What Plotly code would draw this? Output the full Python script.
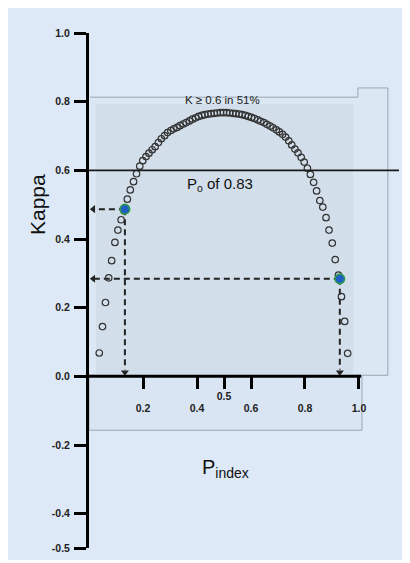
import plotly.graph_objects as go

# ---- data ----
pindex = [0.038, 0.050, 0.061, 0.073, 0.084, 0.096, 0.107, 0.119, 0.130, 0.142,
          0.153, 0.165, 0.176, 0.188, 0.199, 0.211, 0.222, 0.234, 0.245, 0.257,
          0.268, 0.280, 0.291, 0.303, 0.314, 0.326, 0.337, 0.349, 0.360, 0.372,
          0.383, 0.395, 0.406, 0.418, 0.429, 0.441, 0.452, 0.464, 0.475, 0.487,
          0.498, 0.510, 0.521, 0.533, 0.544, 0.556, 0.567, 0.579, 0.590, 0.602,
          0.613, 0.625, 0.636, 0.648, 0.659, 0.671, 0.682, 0.694, 0.705, 0.717,
          0.728, 0.740, 0.751, 0.763, 0.774, 0.786, 0.797, 0.809, 0.820, 0.832,
          0.843, 0.855, 0.866, 0.878, 0.889, 0.901, 0.912, 0.924, 0.935, 0.947,
          0.958]
kappa = [0.068, 0.145, 0.215, 0.287, 0.337, 0.390, 0.426, 0.456, 0.482, 0.516,
         0.543, 0.567, 0.590, 0.612, 0.628, 0.640, 0.650, 0.660, 0.669, 0.681,
         0.692, 0.701, 0.710, 0.716, 0.721, 0.725, 0.730, 0.735, 0.739, 0.744,
         0.749, 0.753, 0.757, 0.760, 0.762, 0.764, 0.765, 0.766, 0.767, 0.768,
         0.768, 0.768, 0.767, 0.766, 0.765, 0.764, 0.762, 0.760, 0.757, 0.754,
         0.751, 0.747, 0.743, 0.739, 0.734, 0.729, 0.724, 0.718, 0.712, 0.705,
         0.697, 0.686, 0.674, 0.662, 0.651, 0.638, 0.624, 0.606, 0.588, 0.565,
         0.540, 0.512, 0.493, 0.462, 0.426, 0.388, 0.340, 0.295, 0.232, 0.160,
         0.067]

highlight_x = [0.133, 0.929]
highlight_k = [0.487, 0.284]

po_level = 0.6
ytick_vals = [1.0, 0.8, 0.6, 0.4, 0.2, 0.0, -0.2, -0.4, -0.5]
ytick_text = ["1.0", "0.8", "0.6", "0.4", "0.2", "0.0", "-0.2", "-0.4", "-0.5"]
xtick_vals = [0.2, 0.4, 0.6, 0.8, 1.0]
xtick_text = ["0.2", "0.4", "0.6", "0.8", "1.0"]
xtick_mid_vals = [0.5]
xtick_mid_text = ["0.5"]

PANEL = "#dde9f6"
SHADE = "#d2deea"
EDGE = "#9ba7b3"
INK = "#1a1a1a"
TICKFONT = dict(family="Liberation Sans", size=10.5, color="#222", weight="bold")

fig = go.Figure()

# dashed guide lines from highlighted points
for hx, hk in zip(highlight_x, highlight_k):
    fig.add_trace(go.Scatter(x=[hx, 0.02], y=[hk, hk], mode="lines",
                             line=dict(color="#222", width=2, dash="6px,4px"),
                             hoverinfo="skip", showlegend=False))
    fig.add_trace(go.Scatter(x=[hx, hx], y=[hk, 0.02], mode="lines",
                             line=dict(color="#222", width=2, dash="6px,4px"),
                             hoverinfo="skip", showlegend=False))

# arrowheads at the axes
fig.add_trace(go.Scatter(x=[0.016] * len(highlight_k), y=highlight_k, mode="markers",
                         marker=dict(symbol="triangle-left", size=7, color="#222"),
                         hoverinfo="skip", showlegend=False))
fig.add_trace(go.Scatter(x=highlight_x, y=[0.012] * len(highlight_x), mode="markers",
                         marker=dict(symbol="triangle-down", size=7, color="#222"),
                         hoverinfo="skip", showlegend=False))

fig.add_trace(go.Scatter(x=pindex, y=kappa, mode="markers",
                         marker=dict(symbol="circle-open", size=6.5, color="#333",
                                     line=dict(width=1.2, color="#333")),
                         showlegend=False))
fig.add_trace(go.Scatter(x=highlight_x, y=highlight_k, mode="markers",
                         marker=dict(symbol="circle", size=9.5, color="#1f5fc4",
                                     line=dict(width=1.6, color="#2f9a4c")),
                         showlegend=False))
# invisible trace so the secondary x axis (0.5 tick) is drawn
fig.add_trace(go.Scatter(x=xtick_mid_vals, y=[0.0], xaxis="x2", yaxis="y", mode="markers",
                         marker=dict(size=1, opacity=0), hoverinfo="skip", showlegend=False))

shapes = [
    # lower rectangle
    dict(type="rect", xref="x", yref="y", x0=0.0, x1=1.011, y0=-0.157, y1=0.0,
         fillcolor="#d9e5f2", line=dict(color=EDGE, width=1), layer="below"),
    # outline with step
    dict(type="path", xref="x", yref="y",
         path="M 0.004 0.813 L 0.996 0.813 L 0.996 0.84 L 1.107 0.84 L 1.107 0.003 L 0.0 0.003",
         fillcolor="#dbe7f3", line=dict(color=EDGE, width=1), layer="below"),
    # shaded area
    dict(type="rect", xref="x", yref="y", x0=0.026, x1=0.978, y0=0.0, y1=0.793,
         fillcolor=SHADE, line=dict(width=0), layer="below"),
    # Po line
    dict(type="line", xref="x", yref="y", x0=0.0, x1=1.148, y0=po_level, y1=po_level,
         line=dict(color=INK, width=1.8)),
    # x axis line
    dict(type="line", xref="x", yref="y", x0=0.0, x1=1.008, y0=0.0, y1=0.0,
         line=dict(color="black", width=3)),
]

annotations = [
    dict(x=-0.165, y=0.666, xref="paper", yref="paper", xanchor="center", yanchor="middle",
         text="Kappa", showarrow=False, textangle=-90,
         font=dict(family="Liberation Sans", size=21, color="#111")),
    dict(x=0.504, y=-0.268, xref="x", yref="y", text="P<sub>index</sub>", showarrow=False,
         font=dict(family="Liberation Sans", size=20, color="#111")),
    dict(x=0.496, y=0.805, xref="x", yref="y", text="K ≥ 0.6 in 51%", showarrow=False,
         font=dict(family="Liberation Sans", size=11.5, color="#222")),
    dict(x=0.485, y=0.56, xref="x", yref="y", text="P<sub>o</sub> of 0.83", showarrow=False,
         font=dict(family="Liberation Sans", size=15, color="#111")),
]

fig.update_layout(
    width=402, height=552,
    margin=dict(l=81, r=6, t=25, b=12),
    paper_bgcolor=PANEL, plot_bgcolor="rgba(0,0,0,0)",
    shapes=shapes, annotations=annotations,
    xaxis=dict(range=[0, 1.1667], showgrid=False, zeroline=False, showline=False,
               anchor="free", position=1/3,
               tickmode="array", tickvals=xtick_vals, ticktext=xtick_text,
               ticks="outside", ticklen=12, tickwidth=3, tickcolor="black",
               ticklabelstandoff=10, tickfont=TICKFONT),
    xaxis2=dict(range=[0, 1.1667], overlaying="x", showgrid=False, zeroline=False,
                showline=False, anchor="free", position=1/3, side="bottom",
                tickmode="array", tickvals=xtick_mid_vals, ticktext=xtick_mid_text,
                ticks="outside", ticklen=12, tickwidth=3, tickcolor="black",
                ticklabelstandoff=-2, tickfont=TICKFONT),
    yaxis=dict(range=[-0.5, 1.0], showgrid=False, zeroline=False, showline=True,
               linecolor="black", linewidth=3,
               tickmode="array", tickvals=ytick_vals, ticktext=ytick_text,
               ticks="outside", ticklen=12, tickwidth=3, tickcolor="black",
               ticklabelstandoff=2, tickfont=TICKFONT),
)

fig.write_html("out.html")
